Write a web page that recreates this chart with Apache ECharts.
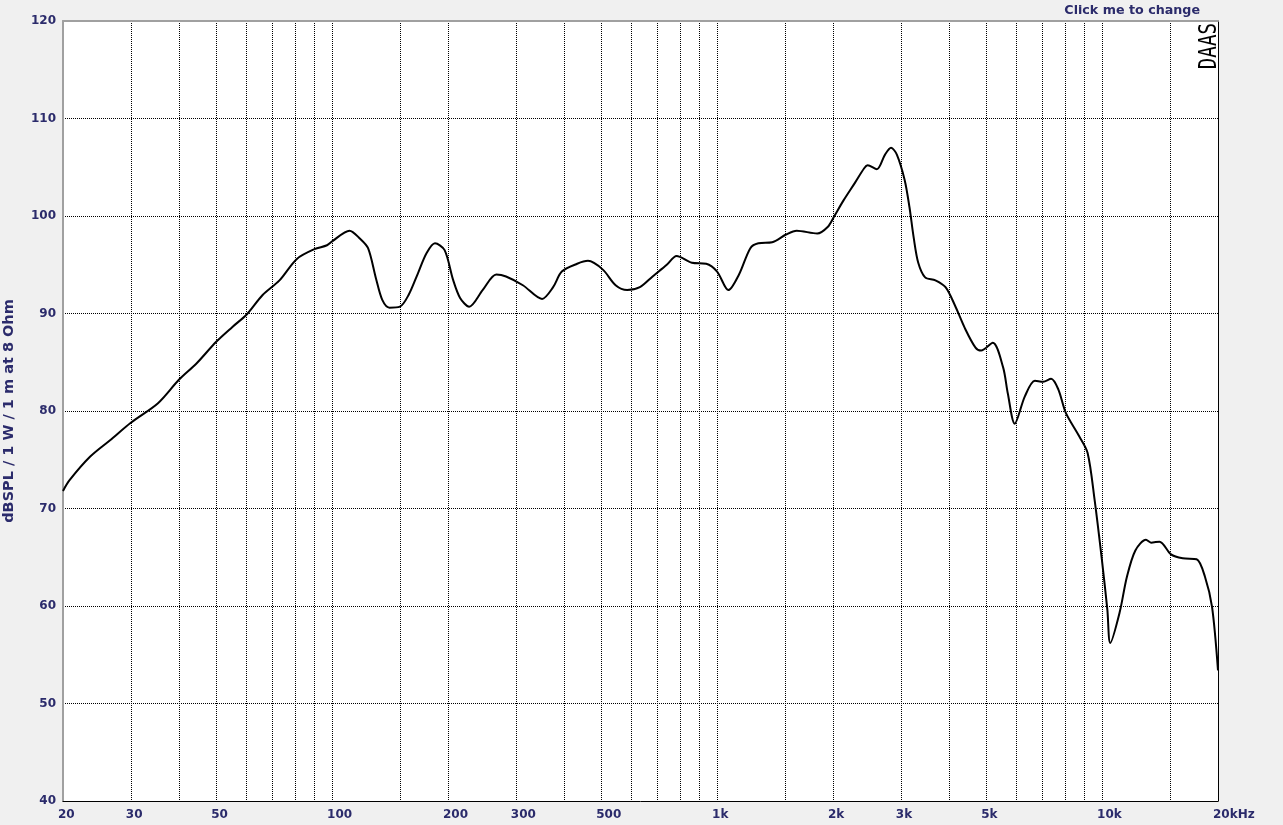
<!DOCTYPE html>
<html>
<head>
<meta charset="utf-8">
<script src="https://cdn.jsdelivr.net/npm/echarts@6/dist/echarts.min.js"></script>
<style>
html,body{margin:0;padding:0;background:#f0f0f0;}
#chart{width:1283px;height:825px;}
</style>
</head>
<body>
<div id="chart"></div>
<script>
// Frequency (Hz) and SPL (dB)
const freqs = [20,20.8,23.5,26.5,30,35.3,40,44.5,50,55,60,66,73,81,90,97,100,111,118,124,130,135,141,150,158,167,176,185,196,206,215,227,246,267,283,313,351,375,395,433,462,505,545,584,630,680,740,785,860,937,1000,1070,1140,1220,1280,1390,1510,1610,1820,1940,2010,2130,2280,2410,2460,2600,2730,2830,2930,3070,3160,3240,3330,3470,3690,3920,4140,4400,4690,4850,5200,5530,5690,5930,6300,6690,7030,7370,7700,8050,8720,9170,9560,9990,10320,10500,11100,11600,12200,13000,13400,14100,15100,16200,17600,18500,19300,20000];
const spl = [71.8,72.9,75.3,77.0,78.8,80.8,83.2,84.9,87.1,88.6,89.9,91.9,93.4,95.6,96.6,97.0,97.4,98.5,97.7,96.7,93.6,91.4,90.6,90.7,91.9,94.1,96.2,97.2,96.5,93.5,91.6,90.7,92.4,94.0,93.8,92.9,91.5,92.7,94.3,95.1,95.4,94.5,92.9,92.4,92.7,93.8,95.0,95.9,95.2,95.1,94.3,92.4,94.0,96.7,97.2,97.3,98.1,98.5,98.2,98.9,99.9,101.6,103.4,104.9,105.2,104.8,106.3,107.0,106.3,103.7,100.9,97.8,95.2,93.7,93.4,92.7,90.9,88.5,86.5,86.2,87.0,84.5,81.8,78.7,81.5,83.1,83.0,83.3,82.2,79.8,77.4,75.7,70.9,64.7,59.6,56.2,59.3,63.0,65.7,66.8,66.5,66.6,65.3,64.9,64.8,63.0,59.9,53.4];
// Vertical grid line frequencies and labelled frequencies
const gridFreqs = [20,30,40,50,60,70,80,90,100,150,200,300,400,500,600,700,800,900,1000,1500,2000,3000,4000,5000,6000,7000,8000,9000,10000,15000,20000];
const labelFreqs = [20,30,50,100,200,300,500,1000,2000,3000,5000,10000,20000];
const yTicks = {min:40, max:120, step:10};
const yTitle = 'dBSPL / 1 W / 1 m at 8 Ohm';
const topText = 'Click me to change';
const brandText = 'DAAS';

const navy = '#2b2b6b';
const lg = v => Math.log10(v);
const xMin = lg(freqs[0]), xMax = lg(20000);
const seriesData = freqs.map((f, i) => [lg(f), spl[i]]);

function fmtFreq(v){
  const f = Math.round(Math.pow(10, v));
  if (f >= 20000) return '20kHz';
  if (f >= 1000) return (f/1000) + 'k';
  return String(f);
}

const chart = echarts.init(document.getElementById('chart'), null, {renderer:'canvas'});
const labelFont = {color: navy, fontWeight: 'bold', fontSize: 12, fontFamily: '"DejaVu Sans", sans-serif'};
chart.setOption({
  backgroundColor: '#f0f0f0',
  animation: false,
  grid: {left: 63, right: 65, top: 21, bottom: 24, show: true, backgroundColor: '#ffffff', borderWidth: 0,
    containLabel: false, outerBoundsMode: 'none'},
  xAxis: [{
    type: 'value', min: xMin, max: xMax,
    axisLine: {show: true, onZero: false, lineStyle: {color: '#000', width: 1}},
    axisTick: {show: false, customValues: gridFreqs.map(lg)},
    splitLine: {show: true, lineStyle: {color: '#000', width: 1, type: [1, 1]}},
    axisLabel: Object.assign({customValues: labelFreqs.map(lg), formatter: fmtFreq, align: 'left', margin: 8, padding: [0,0,0,-5]}, labelFont)
  }, {
    type: 'value', position: 'top', min: xMin, max: xMax,
    axisLine: {show: true, onZero: false, lineStyle: {color: '#a0a0a0', width: 2}},
    axisTick: {show: false}, axisLabel: {show: false}, splitLine: {show: false}
  }],
  yAxis: [{
    type: 'value', min: yTicks.min, max: yTicks.max, interval: yTicks.step,
    axisLine: {show: true, onZero: false, lineStyle: {color: '#a0a0a0', width: 2}},
    axisTick: {show: false},
    splitLine: {show: true, lineStyle: {color: '#000', width: 1, type: [1, 1]}},
    axisLabel: Object.assign({margin: 7}, labelFont),
    name: yTitle, nameLocation: 'middle', nameGap: 46,
    nameTextStyle: {color: navy, fontWeight: 'bold', fontSize: 14.5, fontFamily: '"DejaVu Sans", sans-serif'}
  }, {
    type: 'value', position: 'right', min: yTicks.min, max: yTicks.max, interval: yTicks.step,
    axisLine: {show: true, onZero: false, lineStyle: {color: '#000', width: 1}},
    axisTick: {show: false}, axisLabel: {show: false}, splitLine: {show: false}
  }],
  series: [{
    type: 'line', data: seriesData, xAxisIndex: 0, yAxisIndex: 0,
    showSymbol: false, symbol: 'none', smooth: 0.3,
    lineStyle: {color: '#000', width: 2}, z: 5
  }],
  graphic: [{
    type: 'text', x: 1200, y: 11, z: 10,
    style: {text: topText, textAlign: 'right', align: 'right', textVerticalAlign: 'middle', verticalAlign: 'middle',
      fill: navy, font: 'bold 12.7px "DejaVu Sans", sans-serif'}
  }, {
    type: 'text', x: 1198, y: 23, rotation: Math.PI/2, scaleX: 0.8, z: 10,
    style: {text: brandText, textAlign: 'right', align: 'right', textVerticalAlign: 'top', verticalAlign: 'top',
      fill: '#000', font: 'normal 24px "DejaVu Sans Mono", monospace'}
  }]
});
</script>
</body>
</html>
